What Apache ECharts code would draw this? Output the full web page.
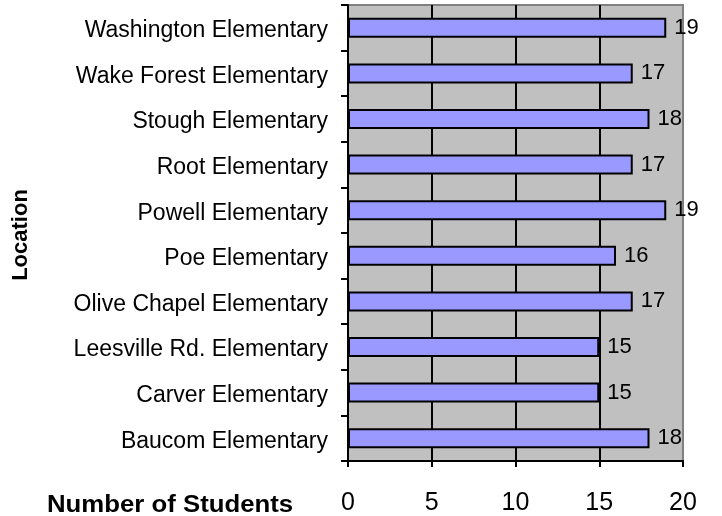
<!DOCTYPE html>
<html>
<head>
<meta charset="utf-8">
<script src="https://cdn.jsdelivr.net/npm/echarts@6/dist/echarts.min.js"></script>
<style>html,body{margin:0;padding:0;background:#fff}#c{width:722px;height:516px}</style>
</head>
<body>
<div id="c"></div>
<script>
var categories = ["Washington Elementary","Wake Forest Elementary","Stough Elementary","Root Elementary","Powell Elementary","Poe Elementary","Olive Chapel Elementary","Leesville Rd. Elementary","Carver Elementary","Baucom Elementary"];
var students = [19,17,18,17,19,16,17,15,15,18];
var xTicks = [0,5,10,15,20];
var FONT = "'Liberation Sans', Arial, sans-serif";

var chart = echarts.init(document.getElementById('c'), null, {renderer:'canvas'});
chart.setOption({
  animation:false,
  backgroundColor:'#ffffff',
  grid:{left:348,right:39,top:5,bottom:51,show:true,backgroundColor:'#c0c0c0',borderColor:'#808080',borderWidth:2},
  xAxis:{
    type:'value',min:xTicks[0],max:xTicks[xTicks.length-1],interval:xTicks[1]-xTicks[0],
    axisLine:{show:true,lineStyle:{color:'#000',width:2}},
    axisTick:{show:true,length:6,lineStyle:{color:'#000',width:2}},
    splitLine:{show:true,showMinLine:false,showMaxLine:false,lineStyle:{color:'#000',width:2}},
    axisLabel:{color:'#000',fontSize:25,fontFamily:FONT,margin:30}
  },
  yAxis:{
    type:'category',data:categories,inverse:true,
    axisLine:{show:true,lineStyle:{color:'#000',width:2}},
    axisTick:{show:true,length:7,lineStyle:{color:'#000',width:2}},
    splitLine:{show:false},
    axisLabel:{color:'#000',fontSize:23,fontFamily:FONT,margin:20,
      formatter:function(v){return '{a|'+v+'}';},
      rich:{a:{fontSize:23,fontFamily:FONT,color:'#000',padding:[6,0,0,0]}}}
  },
  series:[{
    type:'bar',data:students,barWidth:20,
    itemStyle:{color:'#9999ff',borderColor:'#000',borderWidth:2},
    label:{show:true,position:'right',distance:8,color:'#000',fontSize:22,fontFamily:FONT}
  }],
  graphic:[
    {type:'text',left:47,top:494,scaleX:1.12,style:{text:'Number of Students',font:"bold 23px "+FONT,fill:'#000'}},
    {type:'text',x:21,y:235,rotation:Math.PI/2,style:{text:'Location',font:"bold 22px "+FONT,fill:'#000',textAlign:'center',textVerticalAlign:'middle'}}
  ]
});
</script>
</body>
</html>
